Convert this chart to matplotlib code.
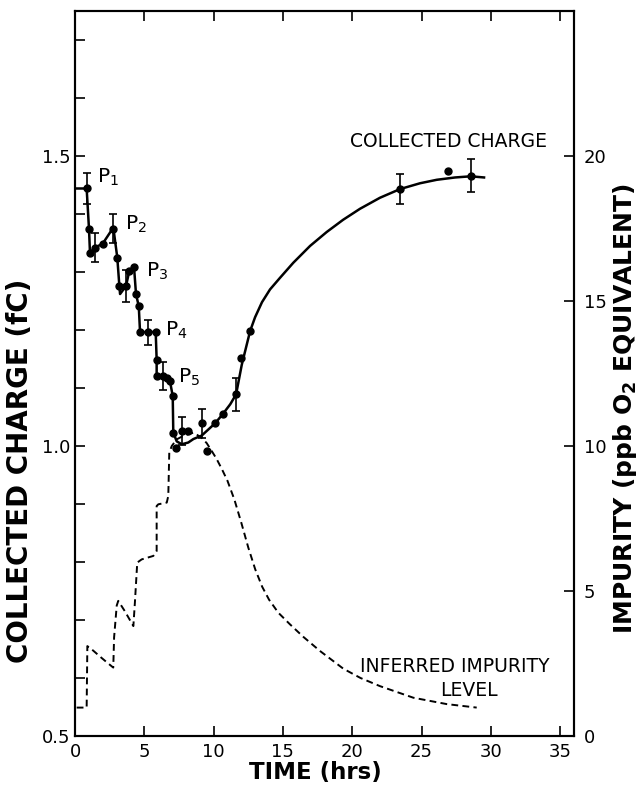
import matplotlib
matplotlib.use("Agg")
from matplotlib import pyplot as plt
from matplotlib.ticker import MultipleLocator

# measured collected charge (fC) vs time (hrs)
charge_t = [0.84, 1.01, 1.08, 1.44, 2.0, 2.72, 3.05, 3.2, 3.68, 3.92, 4.26, 4.4, 4.6, 4.69,
            5.29, 5.82, 5.89, 5.89, 6.33, 6.62, 6.85, 7.05, 7.09, 7.29, 7.7, 8.17, 9.14, 9.5,
            10.1, 10.66, 11.62, 11.96, 12.63, 23.45, 26.93, 28.55]
charge_q = [1.444, 1.374, 1.333, 1.342, 1.349, 1.375, 1.325, 1.276, 1.276, 1.302, 1.308, 1.262,
            1.241, 1.197, 1.196, 1.197, 1.149, 1.121, 1.121, 1.118, 1.112, 1.086, 1.023, 0.997,
            1.026, 1.026, 1.039, 0.992, 1.039, 1.055, 1.089, 1.151, 1.198, 1.443, 1.474, 1.466]

# points with error bars
err_t = [0.84, 1.44, 2.72, 3.68, 5.29, 6.33, 7.7, 9.14, 11.62, 23.45, 28.55]
err_q = [1.444, 1.342, 1.375, 1.276, 1.196, 1.121, 1.026, 1.039, 1.089, 1.443, 1.466]
err_d = [0.027, 0.025, 0.025, 0.027, 0.021, 0.024, 0.024, 0.025, 0.028, 0.026, 0.028]

# hand-drawn curve through the charge data
fit_t = [0.0, 0.84, 1.01, 1.08, 1.44, 2.0, 2.72, 2.8, 3.05, 3.2, 3.25, 3.68, 3.92, 4.26, 4.4,
         4.6, 4.69, 5.29, 5.82, 5.89, 5.89, 6.33, 6.62, 6.85, 7.05, 7.09, 7.34, 7.7, 8.17,
         8.54, 9.14, 10.1, 10.66, 11.2, 11.62, 12.03, 12.63, 12.99, 13.49, 14.07, 14.79,
         15.75, 16.96, 18.16, 19.34, 20.56, 22.0, 23.45, 24.89, 26.1, 27.42, 28.55, 29.51]
fit_q = [1.444, 1.444, 1.374, 1.333, 1.342, 1.349, 1.375, 1.37, 1.325, 1.276, 1.262, 1.276,
         1.302, 1.308, 1.262, 1.241, 1.197, 1.196, 1.197, 1.149, 1.121, 1.121, 1.118, 1.112,
         1.086, 1.023, 1.008, 1.003, 1.006, 1.012, 1.018, 1.039, 1.055, 1.072, 1.089, 1.14,
         1.198, 1.222, 1.248, 1.270, 1.290, 1.316, 1.345, 1.369, 1.390, 1.409, 1.428, 1.443,
         1.453, 1.459, 1.463, 1.465, 1.463]

# inferred impurity level (ppb O2 equivalent)
imp_t = [0.12, 0.84, 0.89, 1.3, 1.9, 2.4, 2.76, 2.82, 3.01, 3.12, 3.6, 4.21, 4.32, 4.49, 4.81,
         5.65, 5.89, 5.89, 6.01, 6.62, 6.73, 6.8, 6.98, 7.34, 7.81, 8.54, 9.1, 9.5, 9.9, 10.22,
         10.6, 11.0, 11.5, 12.0, 12.5, 13.0, 13.5, 14.0, 14.67, 15.51, 16.47, 17.68, 19.36,
         20.6, 22.0, 24.41, 26.82, 28.98]
imp_v = [0.98, 0.98, 3.1, 2.95, 2.7, 2.5, 2.36, 3.4, 4.5, 4.66, 4.3, 3.79, 4.6, 5.98, 6.09,
         6.21, 6.38, 7.93, 7.99, 8.05, 8.28, 9.77, 10.0, 10.23, 10.35, 10.46, 10.3, 10.1, 9.8,
         9.55, 9.2, 8.8, 8.15, 7.35, 6.5, 5.75, 5.15, 4.7, 4.25, 3.85, 3.42, 2.93, 2.32,
         2.0, 1.72, 1.32, 1.1, 0.98]

peak_labels = ["P$_1$", "P$_2$", "P$_3$", "P$_4$", "P$_5$"]
peak_t = [1.59, 3.61, 5.12, 6.49, 7.43]
peak_q = [1.463, 1.382, 1.301, 1.200, 1.118]

fig = plt.figure(figsize=(6.4, 7.86), dpi=100)
ax = fig.add_axes([0.1172, 0.0636, 0.7797, 0.9224])
ax2 = ax.twinx()

ax2.plot(imp_t, imp_v, color="black", lw=1.4, dashes=(3.5, 2.2))
ax.plot(fit_t, fit_q, color="black", lw=1.8)
ax.plot(charge_t, charge_q, "o", color="black", ms=5)
ax.errorbar(err_t, err_q, yerr=err_d, fmt="none", ecolor="black", elinewidth=1.2, capsize=3, capthick=1.2)

for lab, t, q in zip(peak_labels, peak_t, peak_q):
    ax.text(t, q, lab, fontsize=14.5, ha="left", va="center")

ax.text(19.84, 1.525, "COLLECTED CHARGE", fontsize=13.5, ha="left", va="center")
ax.text(20.56, 0.619, "INFERRED IMPURITY", fontsize=13.5, ha="left", va="center")
ax.text(28.4, 0.578, "LEVEL", fontsize=13.5, ha="center", va="center")

ax.set_xlim(0, 36)
ax.set_ylim(0.5, 1.75)
ax2.set_ylim(0, 25)

ax.xaxis.set_major_locator(MultipleLocator(5))
ax.set_yticks([0.5, 1.0, 1.5])
ax.set_yticklabels(["0.5", "1.0", "1.5"])
ax.yaxis.set_minor_locator(MultipleLocator(0.1))
ax2.set_yticks([0, 5, 10, 15, 20])

ax.tick_params(axis="x", direction="in", length=7, width=1.2, labelsize=13, pad=5, top=True)
ax.tick_params(axis="y", which="both", direction="in", length=7, width=1.2, labelsize=13, pad=3.5)
ax2.tick_params(axis="y", direction="in", length=7, width=1.2, labelsize=13, pad=7)
for a in (ax, ax2):
    for s in a.spines.values():
        s.set_linewidth(1.5)

fig.text(315 / 640, 1 - 773 / 786, "TIME (hrs)", fontsize=16.5, fontweight="bold", ha="center", va="center")
fig.text(20 / 640, 1 - 471 / 786, "COLLECTED CHARGE (fC)", fontsize=20, fontweight="bold",
         ha="center", va="center", rotation=90)
fig.text(625 / 640, 1 - 409 / 786, r"IMPURITY (ppb O$_\mathbf{2}$ EQUIVALENT)", fontsize=18,
         fontweight="bold", ha="center", va="center", rotation=90)

fig.savefig("out.png", dpi=100)
